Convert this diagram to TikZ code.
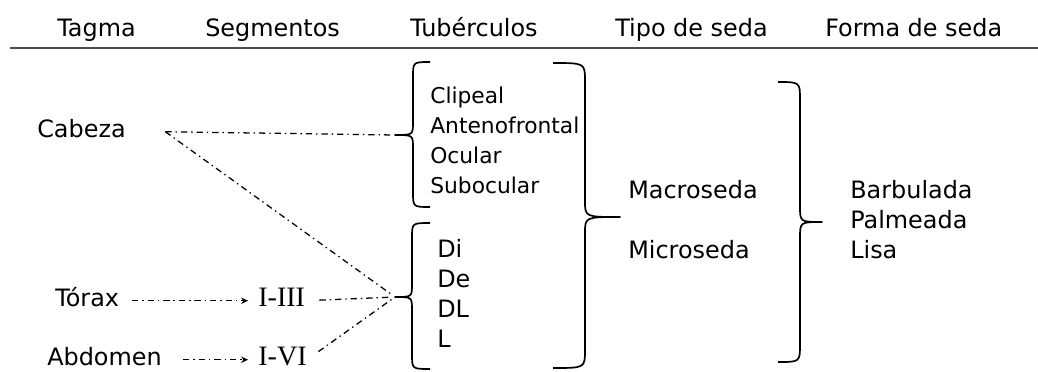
\documentclass[tikz,border=0pt]{standalone}
\usepackage{fontspec}
\setmainfont{DejaVu Sans}
\newfontfamily\romana{Liberation Serif}
\usetikzlibrary{arrows.meta}

\begin{document}
\begin{tikzpicture}[x=0.025cm,y=-0.025cm]
	\tikzstyle{texto}=[anchor=base west, inner sep=0pt, text height=0.75em, text depth=0pt, font=\fontsize{17}{20}\selectfont]
	\tikzstyle{chico}=[texto, font=\fontsize{15.5}{18}\selectfont]
	\tikzstyle{romano}=[texto, font=\romana\fontsize{20}{22}\selectfont]
	\tikzstyle{llave}=[line width=1.2pt, line join=round]
	\tikzstyle{punteo}=[line width=0.9pt, dash pattern=on 4.5pt off 2.8pt on 1pt off 2.8pt]
	\tikzstyle{flecha}=[punteo, -{Stealth[length=5pt, width=4.5pt]}]
	\useasboundingbox (0,0) rectangle (1038,371);
	% encabezados
	\node[texto] (tagma) at (57,36) {Tagma};
	\node[texto] (segm) at (205,36) {Segmentos};
	\node[texto] (tuber) at (410,36) {Tubérculos};
	\node[texto] (tipo) at (615,36) {Tipo de seda};
	\node[texto] (forma) at (825,36) {Forma de seda};
	\draw[line width=1pt, black!70] (10,48) -- (1038,48);
	% tagmas y segmentos
	\node[texto] (cabeza) at (37,137) {Cabeza};
	\node[texto] (torax) at (55,306) {Tórax};
	\node[texto] (abdomen) at (47,365) {Abdomen};
	\node[romano] (iiii) at (258,306) {I-III};
	\node[romano] (ivi) at (258,365) {I-VI};
	% tuberculos
	\node[chico] (clipeal) at (430,103) {Clipeal};
	\node[chico] (antenof) at (430,133) {Antenofrontal};
	\node[chico] (ocular) at (430,163) {Ocular};
	\node[chico] (subocular) at (430,193) {Subocular};
	\node[texto] (di) at (437,257) {Di};
	\node[texto] (de) at (437,287) {De};
	\node[texto] (dl) at (437,317) {DL};
	\node[texto] (l) at (437,347) {L};
	% tipo y forma
	\node[texto] (macro) at (628,198) {Macroseda};
	\node[texto] (micro) at (628,258) {Microseda};
	\node[texto] (barb) at (850,198) {Barbulada};
	\node[texto] (palm) at (850,228) {Palmeada};
	\node[texto] (lisa) at (850,258) {Lisa};
	% llaves
	\draw[llave] (430,62) .. controls (413,62) .. (413,77) -- (413,122) .. controls (413,135) .. (395,135)
		.. controls (413,135) .. (413,148) -- (413,192) .. controls (413,207) .. (430,207);
	\draw[llave] (430,223) .. controls (412,223) .. (412,238) -- (412,284) .. controls (412,297) .. (395,297)
		.. controls (412,297) .. (412,310) -- (412,354) .. controls (412,369) .. (430,369);
	\draw[llave] (553,63) .. controls (585,63) .. (585,81) -- (585,201) .. controls (585,217) .. (620,217)
		.. controls (585,217) .. (585,233) -- (585,350) .. controls (585,368) .. (553,368);
	\draw[llave] (778,82) .. controls (800,82) .. (800,100) -- (800,206) .. controls (800,222) .. (822,222)
		.. controls (800,222) .. (800,238) -- (800,344) .. controls (800,362) .. (778,362);
	\coordinate (puntaA) at (395,135);
	\coordinate (puntaB) at (395,297);
	\coordinate (cab) at ([xshift=28pt]cabeza.east);
	% conectores
	\draw[punteo, shorten >=3pt] (cab) -- (puntaA);
	\draw[punteo, shorten >=3pt] (cab) -- (puntaB);
	\draw[flecha, shorten <=9pt, shorten >=7pt] (torax.east) -- (torax.east -| iiii.west);
	\draw[flecha, shorten <=15pt, shorten >=7pt] (abdomen.east) -- (abdomen.east -| ivi.west);
	\draw[punteo, shorten <=10pt, shorten >=3pt] (iiii.east) -- (puntaB);
	\draw[punteo, shorten <=10pt, shorten >=3pt] (ivi.east) -- (puntaB);
\end{tikzpicture}
\end{document}
